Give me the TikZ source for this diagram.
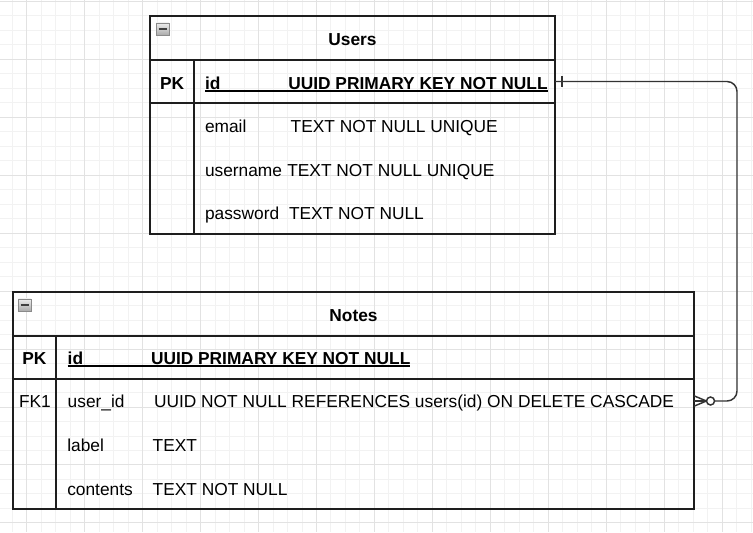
\documentclass[tikz,border=0pt]{standalone}
\usepackage{fontspec}
\setmainfont{Liberation Sans}
\definecolor{gridfine}{HTML}{F2F2F2}
\definecolor{gridmajor}{HTML}{E2E2E2}
\definecolor{ink}{HTML}{1E1E1E}
\definecolor{connink}{HTML}{333333}
\definecolor{iconlight}{HTML}{EEEEEE}
\definecolor{icondark}{HTML}{A8A8A8}
\definecolor{iconedge}{HTML}{8A8A8A}
\begin{document}
\begin{tikzpicture}[x=0.75pt,y=-0.75pt,
  finegrid/.style={draw=gridfine, line width=0.75pt},
  majorgrid/.style={draw=gridmajor, line width=0.75pt},
  tbl/.style={draw=ink, line width=1.3pt, inner sep=0pt, outer sep=0pt, anchor=north west},
  rowbox/.style={inner sep=0pt, outer sep=0pt, anchor=north west},
  sepline/.style={draw=ink, line width=1.3pt},
  txt/.style={inner sep=0pt, outer sep=0pt, text=black, font=\fontsize{13}{15}\selectfont},
  btxt/.style={inner sep=0pt, outer sep=0pt, text=black, font=\fontsize{13}{15}\selectfont\bfseries},
  uline/.style={draw=black, line width=1pt},
  conn/.style={draw=connink, line width=1.1pt, rounded corners=7.5pt},
  erend/.style={draw=connink, line width=1.1pt},
  iconbox/.style={draw=iconedge, line width=0.6pt, top color=iconlight, bottom color=icondark, minimum width=9.4pt, minimum height=9.4pt, inner sep=0pt, anchor=north west},
]
\useasboundingbox (0,0) rectangle (753,532);
\fill[white] (0,0) rectangle (753,532);
% grid
\foreach \i in {-1,...,51} \draw[finegrid] ({26.7+14.49*\i},0) -- ({26.7+14.49*\i},532);
\foreach \j in {0,...,36} \draw[finegrid] (0,{1.3+14.49*\j}) -- (753,{1.3+14.49*\j});
\foreach \i in {0,...,12} \draw[majorgrid] ({26.7+57.96*\i},0) -- ({26.7+57.96*\i},532);
\foreach \j in {0,...,9} \draw[majorgrid] (0,{1.3+57.96*\j}) -- (753,{1.3+57.96*\j});

% ---------- Users table ----------
\node[tbl, minimum width=303.75pt, minimum height=163.5pt] (users) at (150,16) {};
\node[rowbox, minimum width=303.75pt, minimum height=32.25pt] (upk) at (150,60) {};
\draw[sepline] (upk.north west) -- (upk.north east);
\draw[sepline] (upk.south west) -- (upk.south east);
\draw[sepline] (194,60) -- (194,234);
\node[iconbox] (uicon) at (156,22.5) {};
\draw[draw=black!75, line width=1.2pt] ([xshift=2pt]uicon.west) -- ([xshift=-2pt]uicon.east);

\node[btxt, anchor=base] (utitle) at (352.5,45) {Users};
\node[btxt, anchor=base west] (upkl) at (160,89) {PK};
\node[btxt, anchor=base west] (uidn) at (205,89) {id};
\node[btxt, anchor=base west] (uidt) at (288.3,89) {UUID PRIMARY KEY NOT NULL};
\draw[uline] ([yshift=-1.4pt]uidn.base west) -- ([yshift=-1.4pt]uidt.base east);

\node[txt, anchor=base west] (uemn) at (205,132.5) {email};
\node[txt, anchor=base west] (uemt) at (290.7,132.5) {TEXT NOT NULL UNIQUE};
\node[txt, anchor=base west] (uusn) at (205,176.5) {username};
\node[txt, anchor=base west] (uust) at (287.3,176.5) {TEXT NOT NULL UNIQUE};
\node[txt, anchor=base west] (upwn) at (205,219) {password};
\node[txt, anchor=base west] (upwt) at (289,219) {TEXT NOT NULL};

% ---------- Notes table ----------
\node[tbl, minimum width=510.75pt, minimum height=162.75pt] (notes) at (13,292) {};
\node[rowbox, minimum width=510.75pt, minimum height=32.25pt] (npk) at (13,336) {};
\node[rowbox, minimum width=510.75pt, minimum height=33pt] (nfk) at (13,379) {};
\draw[sepline] (npk.north west) -- (npk.north east);
\draw[sepline] (npk.south west) -- ([xshift=-0.75pt]npk.south east);
\draw[sepline] (55.7,336) -- (55.7,509);
\node[iconbox] (nicon) at (18,298.5) {};
\draw[draw=black!75, line width=1.2pt] ([xshift=2pt]nicon.west) -- ([xshift=-2pt]nicon.east);

\node[btxt, anchor=base] (ntitle) at (353.5,321) {Notes};
\node[btxt, anchor=base west] (npkl) at (22.3,364) {PK};
\node[btxt, anchor=base west] (nidn) at (67.7,364) {id};
\node[btxt, anchor=base west] (nidt) at (151,364) {UUID PRIMARY KEY NOT NULL};
\draw[uline] ([yshift=-1.4pt]nidn.base west) -- ([yshift=-1.4pt]nidt.base east);

\node[txt, anchor=base west] (nfkl) at (19,407.7) {FK1};
\node[txt, anchor=base west] (nuin) at (67.7,407.7) {user\_id};
\node[txt, anchor=base west] (nuit) at (154,407.7) {UUID NOT NULL REFERENCES users(id) ON DELETE CASCADE};
\node[txt, anchor=base west] (nlbn) at (67.3,451) {label};
\node[txt, anchor=base west] (nlbt) at (152.7,451) {TEXT};
\node[txt, anchor=base west] (ncon) at (67.3,495) {contents};
\node[txt, anchor=base west] (ncot) at (152.7,495) {TEXT NOT NULL};

% ---------- relationship ----------
\draw[conn] (upk.east) -- ++(182,0) |- (nfk.east);
% one (Users side)
\draw[erend] ([xshift=5.25pt,yshift=4.1pt]upk.east) -- ([xshift=5.25pt,yshift=-4.1pt]upk.east);
% zero-to-many (Notes side)
\draw[erend] ([yshift=3.9pt]nfk.east) -- ([xshift=9.3pt]nfk.east) -- ([yshift=-3.9pt]nfk.east);
\draw[erend] (nfk.east) -- ([xshift=9.3pt]nfk.east);
\draw[erend, fill=white] ([xshift=12.4pt]nfk.east) circle (3pt);
\end{tikzpicture}
\end{document}
